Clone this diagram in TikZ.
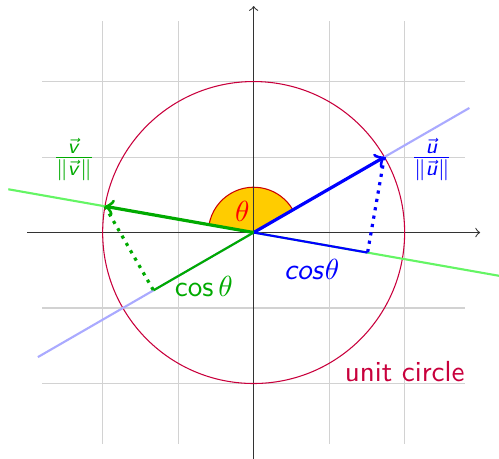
\documentclass[tikz,border=0pt,11pt]{standalone}
\usepackage{amsmath}
\usepackage{tikz}
\usepackage{xcolor}
\usetikzlibrary{calc}
\renewcommand{\familydefault}{\sfdefault}
% sans serif letters in math, as on slides
\DeclareSymbolFont{sfletters}{OT1}{cmss}{m}{sl}
\DeclareSymbolFont{sfoperators}{OT1}{cmss}{m}{n}
\DeclareMathSymbol{c}{\mathalpha}{sfletters}{`c}
\DeclareMathSymbol{o}{\mathalpha}{sfletters}{`o}
\DeclareMathSymbol{s}{\mathalpha}{sfletters}{`s}
\DeclareMathSymbol{u}{\mathalpha}{sfletters}{`u}
\DeclareMathSymbol{v}{\mathalpha}{sfletters}{`v}
\makeatletter
\renewcommand{\operator@font}{\mathgroup\symsfoperators}
\makeatother
\definecolor{cCircle}{RGB}{200,0,60}
\definecolor{cWedge}{RGB}{255,204,0}
\definecolor{cGreen}{RGB}{0,170,0}
\definecolor{cLightGreen}{RGB}{100,245,100}
\definecolor{cLightBlue}{RGB}{170,170,255}
\tikzset{
    gridline/.style  ={gray!35, thin},
    axis/.style      ={->, thin, black!80},
    unitcircle/.style={draw=cCircle, thin},
    uline/.style     ={cLightBlue, thick},
    vline/.style     ={cLightGreen, thick},
    uvec/.style      ={->, very thick, blue},
    vvec/.style      ={->, very thick, cGreen},
    uproj/.style     ={thick, blue},
    vproj/.style     ={thick, cGreen},
    udots/.style     ={very thick, dotted, blue},
    vdots/.style     ={very thick, dotted, cGreen},
    anglewedge/.style={fill=cWedge, draw=red!80!black, thin},
}

\begin{document}
\begin{tikzpicture}
            \useasboundingbox (-3.36,-3.0) rectangle (3.25,3.08);
            \coordinate (O) at (0,0);
            \coordinate (U) at (30:2);
            \coordinate (V) at (170:2);
            \coordinate (PV) at ($(O)!(V)!(U)$);
            \coordinate (PU) at ($(O)!(U)!(V)$);
            \draw[gridline, step=1] (-2.8,-2.8) grid (2.8,2.8);
            \draw[anglewedge] (O) -- ++(30:0.6) arc (30:170:0.6) -- cycle;
            \draw[axis] (-3,0) -- (3,0);
            \draw[axis] (0,-3) -- (0,3);
            \draw[unitcircle] (O) circle (2);
            \draw[uline] ($(O)!-1.65!(U)$) -- ($(O)!1.65!(U)$);
            \draw[vline] ($(O)!-1.65!(V)$) -- ($(O)!1.65!(V)$);
            \draw[vproj](O)--(PV);
            \draw[vdots](V)--(PV);
            \draw[uproj](O)--(PU);
            \draw[udots](U)--(PU);
            \draw[uvec](O)--(U);
            \draw[vvec](O)--(V);
            \node[text=red] (theta) at (-0.15,0.28) {$\theta$};
            \node[text=blue] (ulabel) at (2.36,0.97) {$\frac{\vec{u}}{\|\vec{u}\|}$};
            \node[text=cGreen] (vlabel) at (-2.38,0.97) {$\frac{\vec{v}}{\|\vec{v}\|}$};
            \node[text=cGreen] (cosv) at (-0.66,-0.72) {$\cos\theta$};
            \node[text=blue] (cosu) at (0.77,-0.49) {$cos\theta$};
            \node[text=cCircle] (circlelabel) at (2.0,-1.84) {unit circle};
        \end{tikzpicture}
\end{document}
